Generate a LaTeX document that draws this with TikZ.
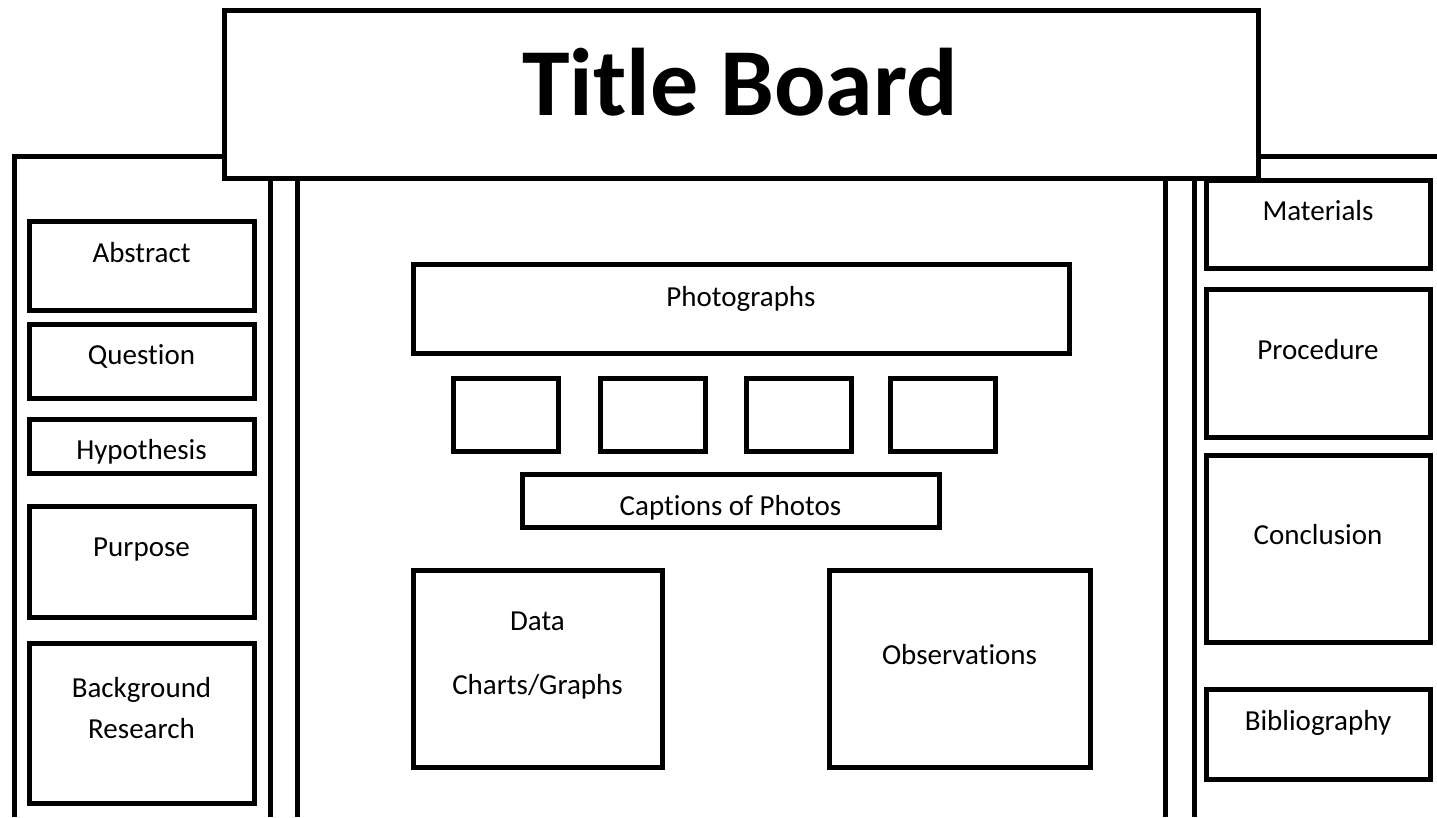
\documentclass[tikz,border=0pt]{standalone}
\usepackage{fontspec}
\setmainfont{Carlito}[Ligatures=NoCommon]
\usepackage{xcolor}

\tikzset{
  board/.style={line width=5pt},
  label/.style={inner sep=0pt, anchor=base, font=\fontsize{29}{35}\selectfont}
}

\begin{document}
\begin{tikzpicture}[x=1pt, y=-1pt, board]
  \useasboundingbox (0,0) rectangle (1437,817);

  % side panels
  \draw (14,817) -- (14,156) -- (224,156);
  \draw (1258,156) -- (1437,156);
  \foreach \x in {270,297,1165,1194} {
    \draw (\x,178) -- (\x,817);
  }

  % title board
  \draw (224,10) rectangle (1258,178);
  \node[label, font=\fontsize{96}{110}\selectfont\bfseries] (title) at (740,115) {Title Board};

  % left panel
  \draw (29,221) rectangle (254,310);
  \draw (29,324) rectangle (254,398);
  \draw (29,419) rectangle (254,473);
  \draw (29,506) rectangle (254,617);
  \draw (29,643) rectangle (254,803);
  \node[label] (abstract) at (141.5,262) {Abstract};
  \node[label] (question) at (141.5,364) {Question};
  \node[label] (hypothesis) at (141.5,459) {Hypothesis};
  \node[label] (purpose) at (141.5,556) {Purpose};
  \node[label] (background) at (141.5,697) {Background};
  \node[label] (research) at (141.5,738) {Research};

  % centre panel
  \draw (413,264) rectangle (1069,353);
  \node[label] (photos) at (741,306) {Photographs};
  \foreach \x in {453,600,746,890} {
    \draw (\x,378) rectangle (\x+105,451);
  }
  \draw (522,474) rectangle (939,527);
  \node[label] (captions) at (730.5,515) {Captions of Photos};
  \draw (413,570) rectangle (662,767);
  \node[label] (data) at (537.5,630) {Data};
  \node[label] (charts) at (537.5,694) {Charts/Graphs};
  \draw (829,570) rectangle (1090,767);
  \node[label] (observations) at (959.5,664) {Observations};

  % right panel
  \draw (1206,180) rectangle (1430,268);
  \draw (1206,289) rectangle (1430,437);
  \draw (1206,455) rectangle (1430,642);
  \draw (1206,689) rectangle (1430,779);
  \node[label] (materials) at (1318,220) {Materials};
  \node[label] (procedure) at (1318,359) {Procedure};
  \node[label] (conclusion) at (1318,544) {Conclusion};
  \node[label] (bibliography) at (1318,730) {Bibliography};
\end{tikzpicture}
\end{document}
